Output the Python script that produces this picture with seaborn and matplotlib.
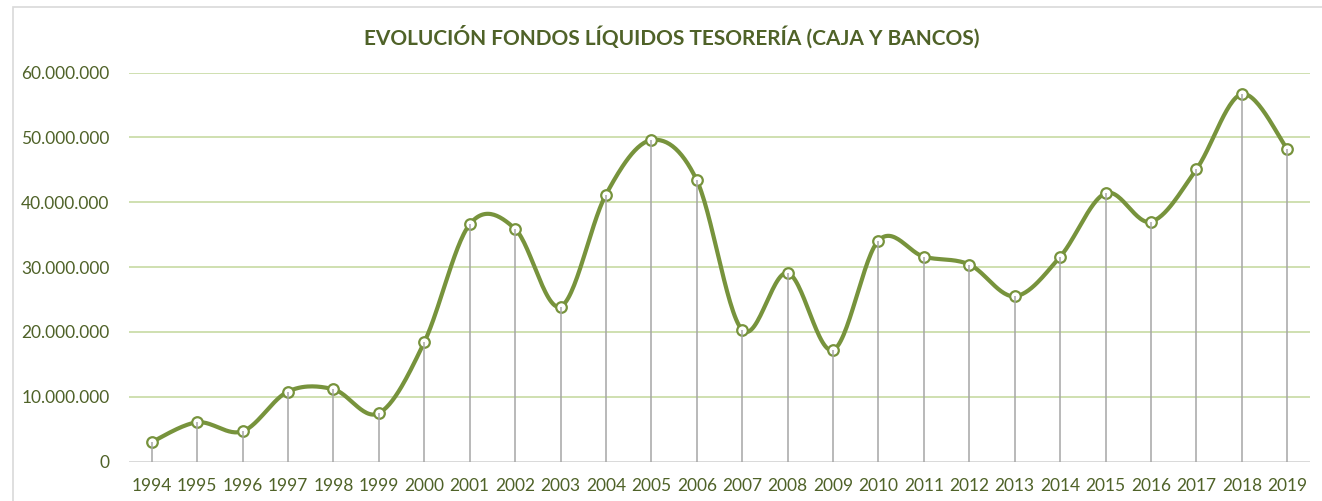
import numpy as np
import pandas as pd
import matplotlib
matplotlib.use("Agg")
import matplotlib.pyplot as plt
from matplotlib.patches import Rectangle
from matplotlib.ticker import FuncFormatter
import seaborn as sns

# Treasury liquid funds (cash and banks), year-end balances in euros
years = [1994, 1995, 1996, 1997, 1998, 1999, 2000, 2001, 2002, 2003, 2004, 2005, 2006,
         2007, 2008, 2009, 2010, 2011, 2012, 2013, 2014, 2015, 2016, 2017, 2018, 2019]
funds = [3_000_000, 6_050_000, 4_650_000, 10_800_000, 11_150_000, 7_450_000, 18_400_000,
         36_600_000, 35_900_000, 23_900_000, 41_200_000, 49_600_000, 43_400_000,
         20_300_000, 29_100_000, 17_200_000, 34_100_000, 31_600_000, 30_400_000,
         25_500_000, 31_600_000, 41_400_000, 37_000_000, 45_100_000, 56_700_000, 48_200_000]
title = "EVOLUCIÓN FONDOS LÍQUIDOS TESORERÍA (CAJA Y BANCOS)"
y_ticks = [0, 10_000_000, 20_000_000, 30_000_000, 40_000_000, 50_000_000, 60_000_000]

LINE = "#77933c"
TEXT = "#4f6228"
GRID = "#cfe0b0"
DROP = "#a6a6a6"

df = pd.DataFrame({"year": years, "funds": funds})
df["pos"] = np.arange(len(df))


def smooth_curve(x, y, steps=30):
    """Bezier smoothing through every point (Catmull-Rom style control points)."""
    x = np.asarray(x, float)
    y = np.asarray(y, float)
    px = np.concatenate([[x[0]], x, [x[-1]]])
    py = np.concatenate([[y[0]], y, [y[-1]]])
    xs, ys = [], []
    t = np.linspace(0, 1, steps, endpoint=False)
    for i in range(len(x) - 1):
        p0 = np.array([px[i + 1], py[i + 1]])
        p3 = np.array([px[i + 2], py[i + 2]])
        c1 = p0 + (np.array([px[i + 2], py[i + 2]]) - np.array([px[i], py[i]])) / 6
        c2 = p3 - (np.array([px[i + 3], py[i + 3]]) - np.array([px[i + 1], py[i + 1]])) / 6
        b = ((1 - t) ** 3)[:, None] * p0 + (3 * (1 - t) ** 2 * t)[:, None] * c1 \
            + (3 * (1 - t) * t ** 2)[:, None] * c2 + (t ** 3)[:, None] * p3
        xs.append(b[:, 0])
        ys.append(b[:, 1])
    xs.append([x[-1]])
    ys.append([y[-1]])
    return np.concatenate(xs), np.concatenate(ys)


sx, sy = smooth_curve(df["pos"], df["funds"])
curve = pd.DataFrame({"pos": sx, "funds": sy})

sns.set_theme(style="white")
plt.rcParams["font.family"] = ["Lato", "DejaVu Sans"]

fig = plt.figure(figsize=(13.22, 5.01), dpi=100)
fig.patch.set_facecolor("white")

# light chart-area frame
fig.patches.append(Rectangle((13 / 1322, -0.1), 1.2, 1 - 7 / 501 + 0.1,
                             transform=fig.transFigure, fill=False,
                             edgecolor="#d9d9d9", linewidth=1.2, zorder=0))

ax = fig.add_axes([129 / 1322, 1 - 461.5 / 501, (1310 - 129) / 1322, (461.5 - 72.7) / 501])
ax.set_facecolor("none")

for v in y_ticks[1:]:
    ax.axhline(v, color=GRID, linewidth=1.4, zorder=0)
ax.axhline(0, color="#d9d9d9", linewidth=1.4, zorder=1)

sns.lineplot(data=curve, x="pos", y="funds", ax=ax, color=LINE, linewidth=3,
             sort=False, zorder=3)
sns.scatterplot(data=df, x="pos", y="funds", ax=ax, s=58, color="white",
                edgecolor=LINE, linewidth=1.6, zorder=4)

# drop lines from each point down to the axis
ax.vlines(df["pos"], 0, df["funds"], color=DROP, linewidth=1.1, zorder=5)

ax.set_xlim(-0.5, len(df) - 0.5)
ax.set_ylim(0, 60_000_000)
ax.set_xticks(df["pos"])
ax.set_xticklabels([str(y) for y in years])
ax.set_yticks(y_ticks)
ax.yaxis.set_major_formatter(FuncFormatter(lambda v, _: f"{int(v):,}".replace(",", ".")))
ax.tick_params(axis="both", length=0, labelsize=12.5, labelcolor=TEXT)
ax.tick_params(axis="x", pad=12)
ax.tick_params(axis="y", pad=14)
ax.set_xlabel("")
ax.set_ylabel("")
for s in ax.spines.values():
    s.set_visible(False)

fig.text(672 / 1322, 1 - 37 / 501, title, ha="center", va="center",
         fontsize=15, fontweight="bold", color=TEXT)

fig.savefig("out.png", dpi=100, facecolor="white")
